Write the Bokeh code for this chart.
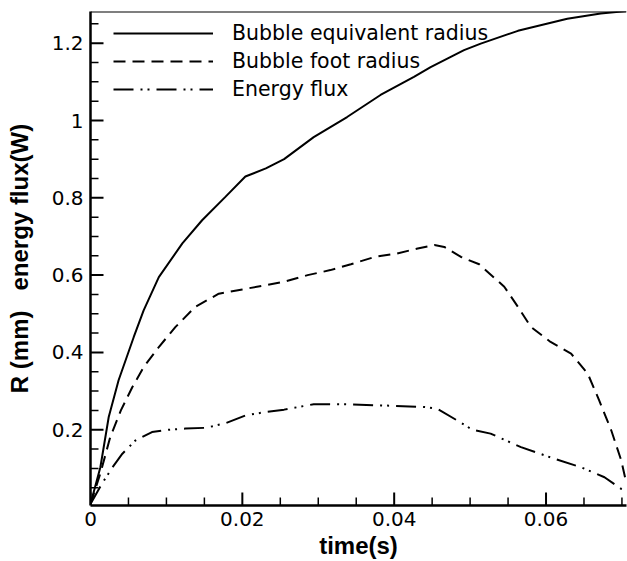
from bokeh.plotting import figure
from bokeh.models import FixedTicker, Span, Legend, LegendItem, Range1d
from bokeh.embed import file_html
from bokeh.resources import INLINE

# time (s) and bubble equivalent radius (mm)
t_eq = [0.0, 0.0013, 0.0024, 0.0037, 0.0057, 0.0070, 0.0090, 0.0121, 0.0147, 0.0178,
        0.0204, 0.0231, 0.0255, 0.0294, 0.0338, 0.0382, 0.0426, 0.0448, 0.0492, 0.0514,
        0.0563, 0.0628, 0.0672, 0.0706]
r_eq = [0.008, 0.103, 0.233, 0.328, 0.440, 0.509, 0.595, 0.682, 0.742, 0.803,
        0.855, 0.876, 0.900, 0.957, 1.009, 1.066, 1.113, 1.138, 1.182, 1.199,
        1.232, 1.263, 1.277, 1.283]

# bubble foot radius (mm)
t_foot = [0.0, 0.0013, 0.0026, 0.0040, 0.0055, 0.0070, 0.0090, 0.0112, 0.0138, 0.0169,
          0.0200, 0.0231, 0.0255, 0.0286, 0.0316, 0.0343, 0.0374, 0.0404, 0.0431, 0.0453,
          0.0466, 0.0488, 0.0512, 0.0545, 0.0563, 0.0580, 0.0606, 0.0633, 0.0655, 0.0670,
          0.0686, 0.0699, 0.0705]
r_foot = [0.008, 0.087, 0.181, 0.250, 0.310, 0.362, 0.414, 0.466, 0.518, 0.552,
          0.563, 0.574, 0.583, 0.600, 0.613, 0.628, 0.647, 0.656, 0.669, 0.678,
          0.673, 0.647, 0.628, 0.570, 0.518, 0.466, 0.427, 0.397, 0.345, 0.276,
          0.198, 0.121, 0.069]

# energy flux (W)
t_flux = [0.0, 0.0015, 0.0029, 0.0042, 0.0059, 0.0081, 0.0103, 0.0125, 0.0152, 0.0178,
          0.0204, 0.0231, 0.0255, 0.0294, 0.0338, 0.0382, 0.0439, 0.0457, 0.0483, 0.0503,
          0.0527, 0.0567, 0.0611, 0.0646, 0.0677, 0.0699, 0.0705]
q_flux = [0.008, 0.060, 0.103, 0.138, 0.172, 0.194, 0.200, 0.203, 0.205, 0.217,
          0.237, 0.246, 0.252, 0.266, 0.266, 0.263, 0.259, 0.254, 0.224, 0.200,
          0.190, 0.155, 0.125, 0.103, 0.077, 0.047, 0.043]

x_ticks = [0.0, 0.02, 0.04, 0.06]
x_tick_labels = ["0", "0.02", "0.04", "0.06"]
y_ticks = [0.2, 0.4, 0.6, 0.8, 1.0, 1.2]
y_tick_labels = ["0.2", "0.4", "0.6", "0.8", "1", "1.2"]
x_minor = [i * 0.005 for i in range(1, 15) if i % 4 != 0]
y_minor = [i * 0.05 for i in range(1, 26) if i % 4 != 0]

series_names = ["Bubble equivalent radius", "Bubble foot radius", "Energy flux"]

x0, x1 = 0.0, 0.0706
y0, y1 = 0.004, 1.282

W, H = 627, 561
BL, BR, BT, BB = 90, 1, 11, 56
p = figure(width=W, height=H, output_backend="svg", toolbar_location=None,
           x_range=Range1d(x0, x1), y_range=Range1d(y0, y1),
           min_border_left=BL, min_border_right=BR, min_border_top=BT, min_border_bottom=BB)
p.background_fill_color = None
p.border_fill_color = None
p.outline_line_color = None
p.xgrid.visible = False
p.ygrid.visible = False

TICK_FONT = "DejaVu Sans"
LABEL_FONT = "Liberation Sans"

for ax in (p.xaxis[0], p.yaxis[0]):
    ax.axis_line_width = 2.5
    ax.axis_line_color = "black"
    ax.major_tick_line_color = None
    ax.minor_tick_line_color = None
    ax.major_tick_out = 0
    ax.major_tick_in = 0
    ax.minor_tick_out = 0
    ax.minor_tick_in = 0
    ax.major_label_text_font = TICK_FONT
    ax.major_label_text_font_size = "20px"
    ax.major_label_text_color = "black"
    ax.axis_label_text_font = LABEL_FONT
    ax.axis_label_text_font_size = "24px"
    ax.axis_label_text_font_style = "bold"
    ax.axis_label_text_color = "black"

p.xaxis.major_label_standoff = 6
p.yaxis.major_label_standoff = 7
p.xaxis.ticker = FixedTicker(ticks=x_ticks, minor_ticks=x_minor)
p.yaxis.ticker = FixedTicker(ticks=y_ticks, minor_ticks=y_minor)
p.xaxis.major_label_overrides = {k: v for k, v in zip(x_ticks, x_tick_labels)}
p.yaxis.major_label_overrides = {k: v for k, v in zip(y_ticks, y_tick_labels)}
p.xaxis.axis_label = "time(s)"
p.xaxis.axis_label_standoff = 3
p.yaxis.axis_label = "R (mm)\u00a0\u00a0\u00a0energy flux(W)"
p.yaxis.axis_label_standoff = 16

top = Span(location=y1, dimension="width", line_color="black", line_width=2)
p.add_layout(top)

r1 = p.line(t_eq, r_eq, line_color="black", line_width=2)
r2 = p.line(t_foot, r_foot, line_color="black", line_width=2, line_dash="12 7")
r3 = p.line(t_flux, q_flux, line_color="black", line_width=2, line_dash="20 7 2 5 2 7")

# inward tick marks as thin filled bars standing on the axes
frame_w = W - BL - BR
frame_h = H - BT - BB
px_x = (x1 - x0) / frame_w   # data units per pixel
px_y = (y1 - y0) / frame_h
MAJ, MIN = 13, 8
p.vbar(x=x_ticks, width=2 * px_x, bottom=y0, top=y0 + MAJ * px_y,
       fill_color="black", line_color=None)
p.vbar(x=x_minor, width=1.5 * px_x, bottom=y0, top=y0 + MIN * px_y,
       fill_color="black", line_color=None)
p.hbar(y=y_ticks, height=2 * px_y, left=x0, right=x0 + MAJ * px_x,
       fill_color="black", line_color=None)
p.hbar(y=y_minor, height=1.5 * px_y, left=x0, right=x0 + MIN * px_x,
       fill_color="black", line_color=None)

legend = Legend(items=[LegendItem(label=series_names[0], renderers=[r1]),
                       LegendItem(label=series_names[1], renderers=[r2]),
                       LegendItem(label=series_names[2], renderers=[r3])],
                location=(23, 402), orientation="vertical")
legend.border_line_color = None
legend.background_fill_alpha = 0
legend.padding = 0
legend.margin = 0
legend.spacing = 0
legend.glyph_width = 100
legend.glyph_height = 28
legend.label_height = 28
legend.label_standoff = 19
legend.label_text_font = TICK_FONT
legend.label_text_font_size = "20.5px"
legend.label_text_color = "black"
p.add_layout(legend, "center")

open("out.html", "w").write(file_html(p, INLINE))
